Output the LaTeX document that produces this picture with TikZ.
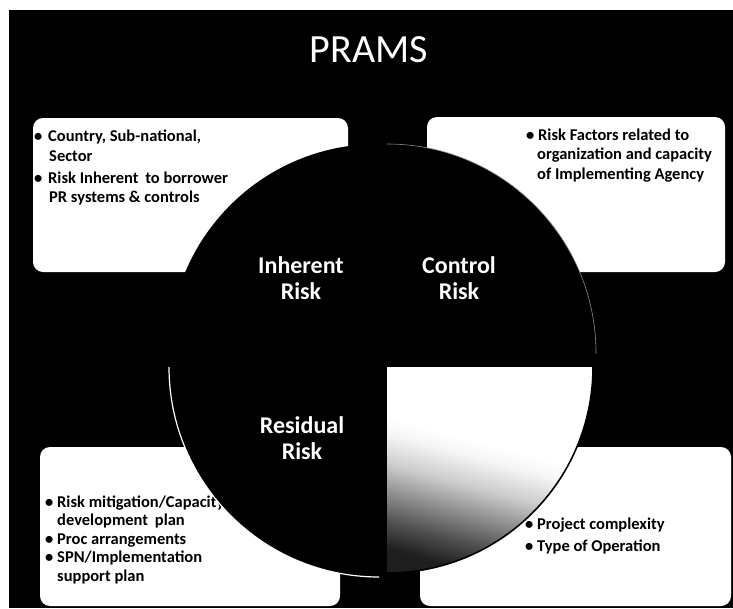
\documentclass[tikz,border=0pt]{standalone}
\usepackage{fontspec}
\setmainfont{Carlito}
\pgfdeclareverticalshading{brq}{100bp}{color(0bp)=(black!90); color(25bp)=(black!88); color(31bp)=(black!70); color(38bp)=(black!45); color(45bp)=(black!20); color(52bp)=(black!4); color(56bp)=(white); color(100bp)=(white)}
\begin{document}
\begin{tikzpicture}[x=1pt,y=-1pt,
  boxstyle/.style={fill=white, rounded corners=10pt},
  btext/.style={font=\fontsize{16.5}{20}\selectfont\bfseries, text=black, inner sep=0pt, anchor=base west},
  qlabel/.style={font=\fontsize{24}{28}\selectfont\bfseries, text=white, inner sep=0pt, anchor=base},
  titlestyle/.style={font=\fontsize{40}{48}\selectfont, text=white, inner sep=0pt, anchor=base}
]
\useasboundingbox (0,0) rectangle (733,608);
\fill[white] (0,0) rectangle (733,608);
\fill[black] (9,10) rectangle (733,608);

% title
\node[titlestyle] (title) at (369,62) {PRAMS};

% corner boxes
\fill[boxstyle] (33,118) rectangle (348,272);
\fill[boxstyle] (427,117) rectangle (725,272);
\fill[boxstyle] (40,447) rectangle (340,606);
\fill[boxstyle] (420,447) rectangle (731,606);

% top-left box text
\node[btext] (tlb1) at (34,141) {\textbullet};
\node[btext] (tl1) at (48,141) {Country, Sub-national,};
\node[btext] (tl2) at (49,161) {Sector};
\node[btext] (tlb2) at (34,183) {\textbullet};
\node[btext] (tl3) at (48,183) {Risk Inherent\hspace{3pt} to borrower};
\node[btext] (tl4) at (49,202) {PR systems \& controls};

% top-right box text
\node[btext] (trb1) at (526,140) {\textbullet};
\node[btext] (tr1) at (538,140) {Risk Factors related to};
\node[btext] (tr2) at (537,159.5) {organization and capacity};
\node[btext] (tr3) at (537,179) {of Implementing Agency};

% bottom-left box text
\node[btext] (blb1) at (45,507) {\textbullet};
\node[btext] (bl1) at (57,507) {Risk mitigation/Capacity};
\node[btext] (bl2) at (57,525.5) {development\hspace{3pt} plan};
\node[btext] (blb2) at (45,544) {\textbullet};
\node[btext] (bl3) at (57,544) {Proc arrangements};
\node[btext] (blb3) at (45,562.5) {\textbullet};
\node[btext] (bl4) at (57,562.5) {SPN/Implementation};
\node[btext] (bl5) at (57,581) {support plan};

% bottom-right box text
\node[btext] (brb1) at (525,529) {\textbullet};
\node[btext] (br1) at (537,529) {Project complexity};
\node[btext] (brb2) at (525,551) {\textbullet};
\node[btext] (br2) at (537,551) {Type of Operation};

% quadrant centres
\coordinate (ctl) at (378,353);
\coordinate (ctr) at (387,353);
\coordinate (cbl) at (379,367);
\coordinate (cbr) at (387,367);

% top-left quadrant
\begin{scope}
  \clip (ctl) rectangle ++(-230,-230);
  \fill[black] (ctl) circle[radius=209pt];
\end{scope}
% top-right quadrant
\begin{scope}
  \clip (ctr) rectangle ++(230,-230);
  \fill[black] (ctr) circle[radius=209pt];
  \draw[black!45, line width=0.6pt] (ctr) circle[radius=209pt];
\end{scope}
% bottom-left quadrant
\begin{scope}
  \clip (cbl) rectangle ++(-230,230);
  \fill[black] (cbl) circle[radius=210pt];
  \draw[white, line width=1.2pt] (cbl) circle[radius=210pt];
\end{scope}
% bottom-right quadrant (shaded)
\begin{scope}
  \clip (cbr) circle[radius=206pt];
  \shade[shading=brq, shading angle=-15] (cbr) rectangle ++(206,206);
\end{scope}
\begin{scope}
  \clip (cbr) rectangle ++(230,230);
  \draw[black, line width=1.6pt] (cbr) circle[radius=206pt];
\end{scope}

% quadrant labels
\node[qlabel] (inh1) at (301,273) {Inherent};
\node[qlabel] (inh2) at (301,299) {Risk};
\node[qlabel] (con1) at (459,273) {Control};
\node[qlabel] (con2) at (459,299) {Risk};
\node[qlabel] (res1) at (302,433) {Residual};
\node[qlabel] (res2) at (302,459) {Risk};
\end{tikzpicture}
\end{document}
